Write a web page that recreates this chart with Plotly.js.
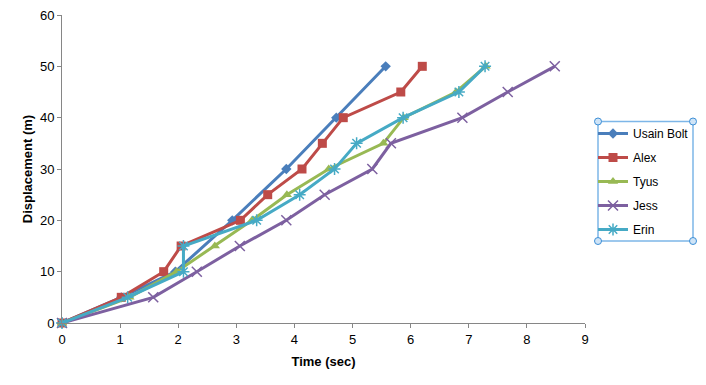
<!DOCTYPE html>
<html>
<head>
<meta charset="utf-8">
<script src="https://cdn.plot.ly/plotly-3.0.1.min.js"></script>
<style>html,body{margin:0;padding:0;background:#fff;}#chart{width:706px;height:385px;}</style>
</head>
<body>
<div id="chart"></div>
<script>
// Data
const seriesNames = ["Usain Bolt", "Alex", "Tyus", "Jess", "Erin"];
const usainTime = [0, 1.02, 1.95, 2.93, 3.86, 4.72, 5.57];
const usainDisp = [0, 5, 10, 20, 30, 40, 50];
const alexTime = [0, 1.02, 1.75, 2.05, 3.07, 3.54, 4.13, 4.48, 4.84, 5.83, 6.2];
const alexDisp = [0, 5, 10, 15, 20, 25, 30, 35, 40, 45, 50];
const tyusTime = [0, 1.16, 1.97, 2.63, 3.27, 3.87, 4.59, 5.53, 5.88, 6.78, 7.29];
const tyusDisp = [0, 5, 10, 15, 20, 25, 30, 35, 40, 45, 50];
const jessTime = [0, 1.57, 2.32, 3.06, 3.86, 4.52, 5.34, 5.66, 6.89, 7.67, 8.48];
const jessDisp = [0, 5, 10, 15, 20, 25, 30, 35, 40, 45, 50];
const erinTime = [0, 1.13, 2.09, 2.09, 3.35, 4.09, 4.69, 5.07, 5.87, 6.83, 7.28];
const erinDisp = [0, 5, 10, 15, 20, 25, 30, 35, 40, 45, 50];
const xTickVals = [0, 1, 2, 3, 4, 5, 6, 7, 8, 9];
const yTickVals = [0, 10, 20, 30, 40, 50, 60];

const colors = ["#4a7ebb", "#be4b48", "#98b954", "#7d60a0", "#46aac5"];
const symbols = ["diamond", "square", "triangle-up", "x-thin-open", "asterisk-open"];
const sizes = [8, 9, 9, 10, 10];
const xs = [usainTime, alexTime, tyusTime, jessTime, erinTime];
const ys = [usainDisp, alexDisp, tyusDisp, jessDisp, erinDisp];

const traces = seriesNames.map((n, i) => ({
  type: "scatter", mode: "lines+markers", name: n,
  x: xs[i], y: ys[i], legendgroup: "g" + i,
  line: {color: colors[i], width: 3},
  marker: {symbol: symbols[i], size: sizes[i], color: colors[i],
           line: {color: colors[i], width: (i >= 3 ? 1.5 : 0)}},
  cliponaxis: false
}));

const L = 62, R = 585, T = 15, B = 323;
const px = v => (v - L) / (R - L);
const py = v => (B - v) / (B - T);
const boxX0 = px(598), boxX1 = px(693), boxY0 = py(241), boxY1 = py(121.5);
const shapes = [{type: "rect", xref: "paper", yref: "paper", x0: boxX0, x1: boxX1, y0: boxY0, y1: boxY1,
  line: {color: "#7db6e8", width: 1.5}, fillcolor: "rgba(0,0,0,0)"}];
[[598, 121.5], [693, 121.5], [598, 241], [693, 241]].forEach(([cx, cy]) => {
  shapes.push({type: "circle", xref: "paper", yref: "paper",
    x0: px(cx - 3.5), x1: px(cx + 3.5), y0: py(cy + 3.5), y1: py(cy - 3.5),
    line: {color: "#3d8fd6", width: 1}, fillcolor: "#cfe4f7"});
});

const layout = {
  width: 706, height: 385,
  margin: {l: L, r: 706 - R, t: T, b: 385 - B, pad: 0},
  paper_bgcolor: "#fff", plot_bgcolor: "#fff",
  font: {family: "Liberation Sans, Arial, sans-serif", size: 13, color: "#000"},
  showlegend: true,
  legend: {x: px(593), y: py(119), xanchor: "left", yanchor: "top",
    bgcolor: "rgba(0,0,0,0)", borderwidth: 0, traceorder: "grouped", tracegroupgap: 5,
    font: {size: 12}, itemwidth: 30},
  xaxis: {range: [0, 9], tickvals: xTickVals, showgrid: false, zeroline: false,
    showline: true, linecolor: "#868686", linewidth: 1, automargin: false,
    ticks: "outside", ticklen: 4, tickcolor: "#868686",
    title: {text: "Time (sec)", font: {size: 13, weight: "bold"}, standoff: 11}},
  yaxis: {range: [0, 60], tickvals: yTickVals, showgrid: false, zeroline: false,
    showline: true, linecolor: "#868686", linewidth: 1, automargin: false,
    ticks: "outside", ticklen: 4, tickcolor: "#868686",
    title: {text: "Displacement (m)", font: {size: 13, weight: "bold"}, standoff: 4}},
  shapes: shapes
};

Plotly.newPlot("chart", traces, layout, {displayModeBar: false, staticPlot: true});
</script>
</body>
</html>
